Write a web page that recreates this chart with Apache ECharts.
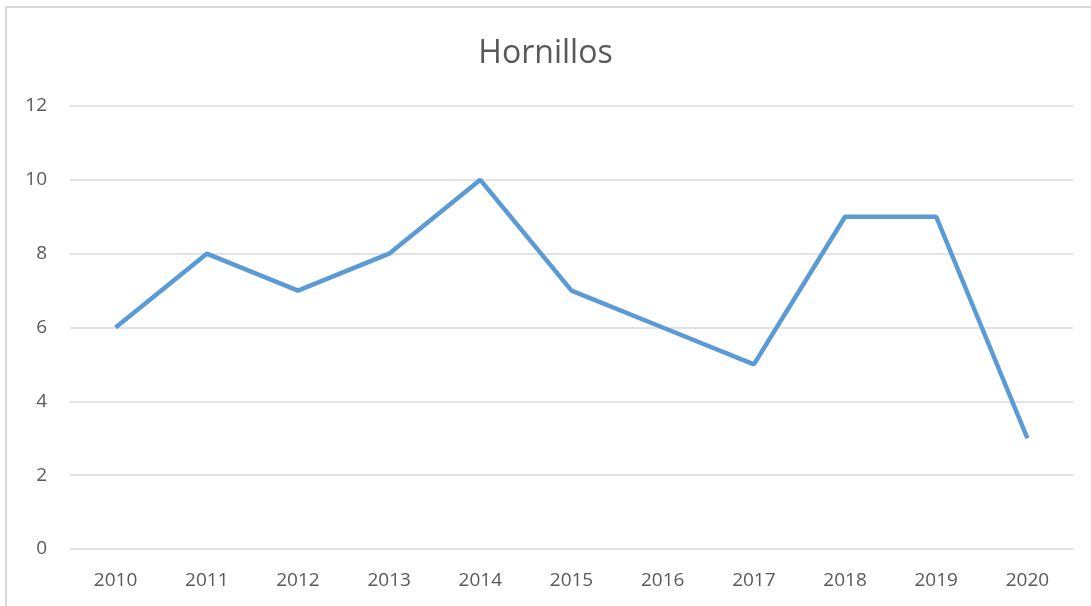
<!DOCTYPE html>
<html><head><meta charset="utf-8">
<script src="https://cdn.jsdelivr.net/npm/echarts@6/dist/echarts.min.js"></script>
<style>html,body{margin:0;padding:0;background:#fff}#c{width:1091px;height:606px}</style>
</head><body><div id="c"></div>
<script>
const years = ['2010','2011','2012','2013','2014','2015','2016','2017','2018','2019','2020'];
const values = [6, 8, 7, 8, 10, 7, 6, 5, 9, 9, 3];
const yTicks = [0, 2, 4, 6, 8, 10, 12];
const titleText = 'Hornillos';

const chart = echarts.init(document.getElementById('c'));
chart.setOption({
  animation: false,
  textStyle: {fontFamily: 'Open Sans'},
  title: {
    text: titleText, left: 'center', top: 33,
    textStyle: {fontSize: 32, fontWeight: 'normal', color: '#595959', fontFamily: 'Open Sans'}
  },
  graphic: [{
    type: 'rect', shape: {x: 6, y: 7, width: 1200, height: 700},
    style: {fill: 'none', stroke: '#d9d9d9', lineWidth: 2}, silent: true
  }],
  grid: {left: 70, right: 18, top: 106, bottom: 57},
  xAxis: {
    type: 'category', data: years, boundaryGap: true,
    axisLine: {show: false}, axisTick: {show: false},
    axisLabel: {color: '#595959', fontSize: 19, margin: 22}
  },
  yAxis: {
    type: 'value', min: yTicks[0], max: yTicks[yTicks.length-1], interval: 2,
    axisLine: {show: false}, axisTick: {show: false},
    axisLabel: {color: '#595959', fontSize: 19, margin: 23},
    splitLine: {lineStyle: {color: '#d9d9d9', width: 1.5}}
  },
  series: [{
    type: 'line', data: values, showSymbol: false, symbol: 'none',
    lineStyle: {color: '#5b9bd5', width: 4.5}, itemStyle: {color: '#5b9bd5'}
  }]
});
</script></body></html>
